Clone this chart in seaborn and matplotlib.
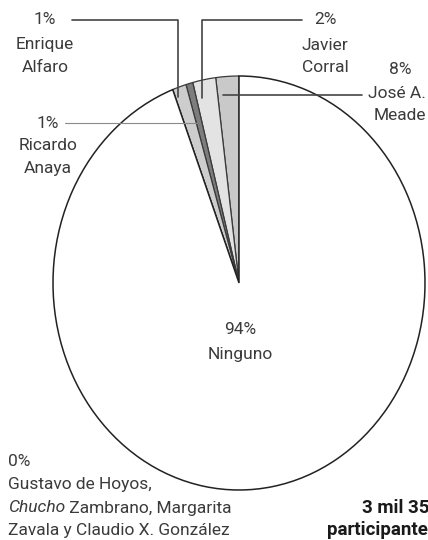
import matplotlib
matplotlib.use("Agg")
import matplotlib.pyplot as plt
from matplotlib.lines import Line2D
import seaborn as sns

# datos (tamaño de las rebanadas, etiquetas tal como aparecen)
candidatos = ["José A.\nMeade", "Javier\nCorral", "Enrique\nAlfaro", "Ricardo\nAnaya",
              "Gustavo de Hoyos", "Ninguno"]
rebanadas = [2.0, 2.0, 0.6, 1.2, 0.0, 94.2]
etiquetas_pct = ["8%", "2%", "1%", "1%", "0%", "94%"]
colores = ["#c9c9c9", "#e3e3e3", "#7d7d7d", "#cdcdcd", "#ffffff", "#ffffff"]

sns.set_theme(style="white")
plt.rcParams["font.family"] = ["Roboto", "DejaVu Sans"]

W, H = 428, 540
fig = plt.figure(figsize=(W / 100, H / 100), dpi=100)
ax = fig.add_axes([0, 0, 1, 1])

# pastel (elipse: centro en px (239, 283), radios 186 x 207)
cx, cy, rx, ry = 239, 283, 186, 207
wedges, _ = ax.pie(rebanadas, colors=colores, startangle=90, counterclock=True,
                   wedgeprops=dict(edgecolor="#3a3a3a", linewidth=0.9))
wedges[-1].set_edgecolor("#222222")
wedges[-1].set_linewidth(1.1)
ax.set_aspect("auto")
ax.set_xlim(-cx / rx, (W - cx) / rx)
ax.set_ylim(-(H - cy) / ry, cy / ry)
ax.axis("off")

txt = "#3b3b3b"
fs = 12.5


def fx(x):
    return x / W


def fy(y):
    return 1 - y / H


def texto(x, y, s, ha="center", size=fs, color=txt, **kw):
    return fig.text(fx(x), fy(y), s, ha=ha, va="center", color=color,
                    fontsize=size, **kw)


def linea(xs, ys, color="#444444", lw=1.2):
    fig.add_artist(Line2D([fx(v) for v in xs], [fy(v) for v in ys],
                          color=color, lw=lw, transform=fig.transFigure))


# Enrique Alfaro
texto(45, 20, etiquetas_pct[2])
texto(45, 45, "Enrique")
texto(45, 67, "Alfaro")
linea([72, 178, 178], [20, 20, 97])

# Javier Corral
texto(325, 20, etiquetas_pct[1])
texto(325, 45, "Javier")
texto(325, 67, "Corral")
linea([302, 202, 202], [20, 20, 98])

# José A. Meade
texto(400, 70, etiquetas_pct[0])
texto(397, 94, "José A.")
texto(400, 116, "Meade")
linea([362, 223], [95, 95])

# Ricardo Anaya
texto(48, 123, etiquetas_pct[3])
texto(48, 146, "Ricardo")
texto(48, 169, "Anaya")
linea([65, 197], [123, 123], color="#8a8a8a", lw=0.8)

# Ninguno
texto(240, 330, etiquetas_pct[5])
texto(240, 355, "Ninguno")

# 0%
texto(8, 461, etiquetas_pct[4], ha="left")
texto(8, 485, "Gustavo de Hoyos,", ha="left")
t1 = texto(8, 508, "Chucho", ha="left", style="italic")
ax.annotate(" Zambrano, Margarita", xy=(1, 0), xycoords=t1, ha="left", va="bottom",
            color=txt, fontsize=fs)
texto(8, 530, "Zavala y Claudio X. González", ha="left")

# participantes (recortado en el borde derecho, como en el original)
texto(362, 508, "3 mil 35", ha="left", size=13.5, color="#1a1a1a", fontweight="bold")
texto(327, 530, "participante", ha="left", size=13.5, color="#1a1a1a", fontweight="bold")

fig.savefig("out.png", dpi=100, facecolor="white")
